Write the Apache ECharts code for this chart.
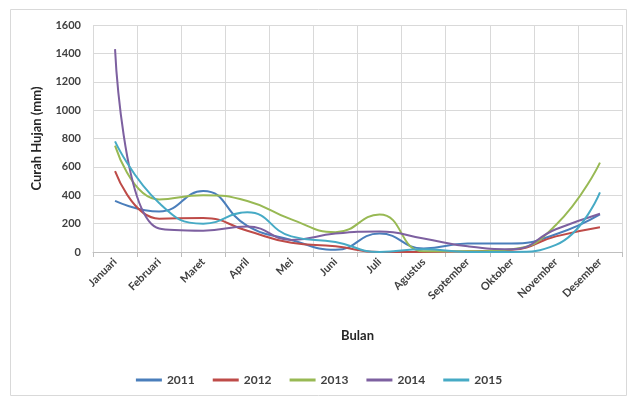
<!DOCTYPE html>
<html><head><meta charset="utf-8">
<script src="https://cdn.jsdelivr.net/npm/echarts@6/dist/echarts.min.js"></script>
<style>html,body{margin:0;padding:0;background:#fff}#c{width:638px;height:399px}</style>
</head><body><div id="c"></div>
<script>
const categories = ['Januari','Februari','Maret','April','Mei','Juni','Juli','Agustus','September','Oktober','November','Desember'];
const s2011 = [360, 285, 430, 185, 85, 15, 130, 25, 60, 60, 125, 265];
const s2012 = [570, 235, 240, 150, 65, 40, 0, 0, 5, 15, 110, 175];
const s2013 = [750, 370, 400, 360, 230, 140, 265, 5, 5, 20, 190, 630];
const s2014 = [1430, 165, 150, 180, 85, 130, 145, 95, 40, 20, 160, 270];
const s2015 = [780, 345, 200, 280, 110, 70, 0, 20, 0, 0, 50, 420];
const seriesNames = ['2011','2012','2013','2014','2015'];
const colors = ['#4A7EBB','#BE4B48','#98B954','#7D60A0','#46AAC5'];
const yTicks = [0, 1600, 200];

const chart = echarts.init(document.getElementById('c'), null, {renderer:'canvas'});
const allData = [s2011, s2012, s2013, s2014, s2015];
chart.setOption({
  animation: false,
  textStyle: {fontFamily: 'Lato, "Open Sans", sans-serif'},
  graphic: [{type:'rect', shape:{x:10.5, y:9.5, width:616, height:386}, style:{fill:'none', stroke:'#d9d9d9', lineWidth:1}, silent:true}],
  grid: {left: 93, right: 16, top: 25, bottom: 147},
  legend: {
    data: seriesNames, left: 'center', top: 369, icon: 'rect', itemWidth: 26, itemHeight: 3, itemGap: 18,
    textStyle: {fontSize: 12, fontWeight: 'bold', color: '#404040', fontFamily: 'Lato, sans-serif'}
  },
  xAxis: {
    type: 'category', data: categories, boundaryGap: true,
    name: 'Bulan', nameLocation: 'middle', nameGap: 77,
    nameTextStyle: {fontSize: 13, fontWeight: 'bold', color: '#262626'},
    axisLine: {lineStyle: {color: '#bfbfbf'}},
    axisTick: {show: true, alignWithLabel: false, lineStyle: {color: '#bfbfbf'}},
    axisLabel: {rotate: 45, fontSize: 11, color: '#404040', fontWeight: 'bold', interval: 0, margin: 8},
    splitLine: {show: true, interval: 0, lineStyle: {color: '#d9d9d9'}}
  },
  yAxis: {
    type: 'value', min: yTicks[0], max: yTicks[1], interval: yTicks[2],
    name: 'Curah Hujan (mm)', nameLocation: 'middle', nameGap: 50,
    nameTextStyle: {fontSize: 13, fontWeight: 'bold', color: '#262626'},
    axisLine: {show: false}, axisTick: {show: false},
    axisLabel: {fontSize: 11, fontWeight: 'bold', color: '#404040', margin: 12, formatter: v => String(v)},
    splitLine: {show: true, lineStyle: {color: '#d9d9d9'}}
  },
  series: allData.map((d, i) => ({
    name: seriesNames[i], type: 'line', data: d, smooth: 0.5, symbol: 'none',
    lineStyle: {width: 2, color: colors[i]}, itemStyle: {color: colors[i]}
  }))
});
</script></body></html>
